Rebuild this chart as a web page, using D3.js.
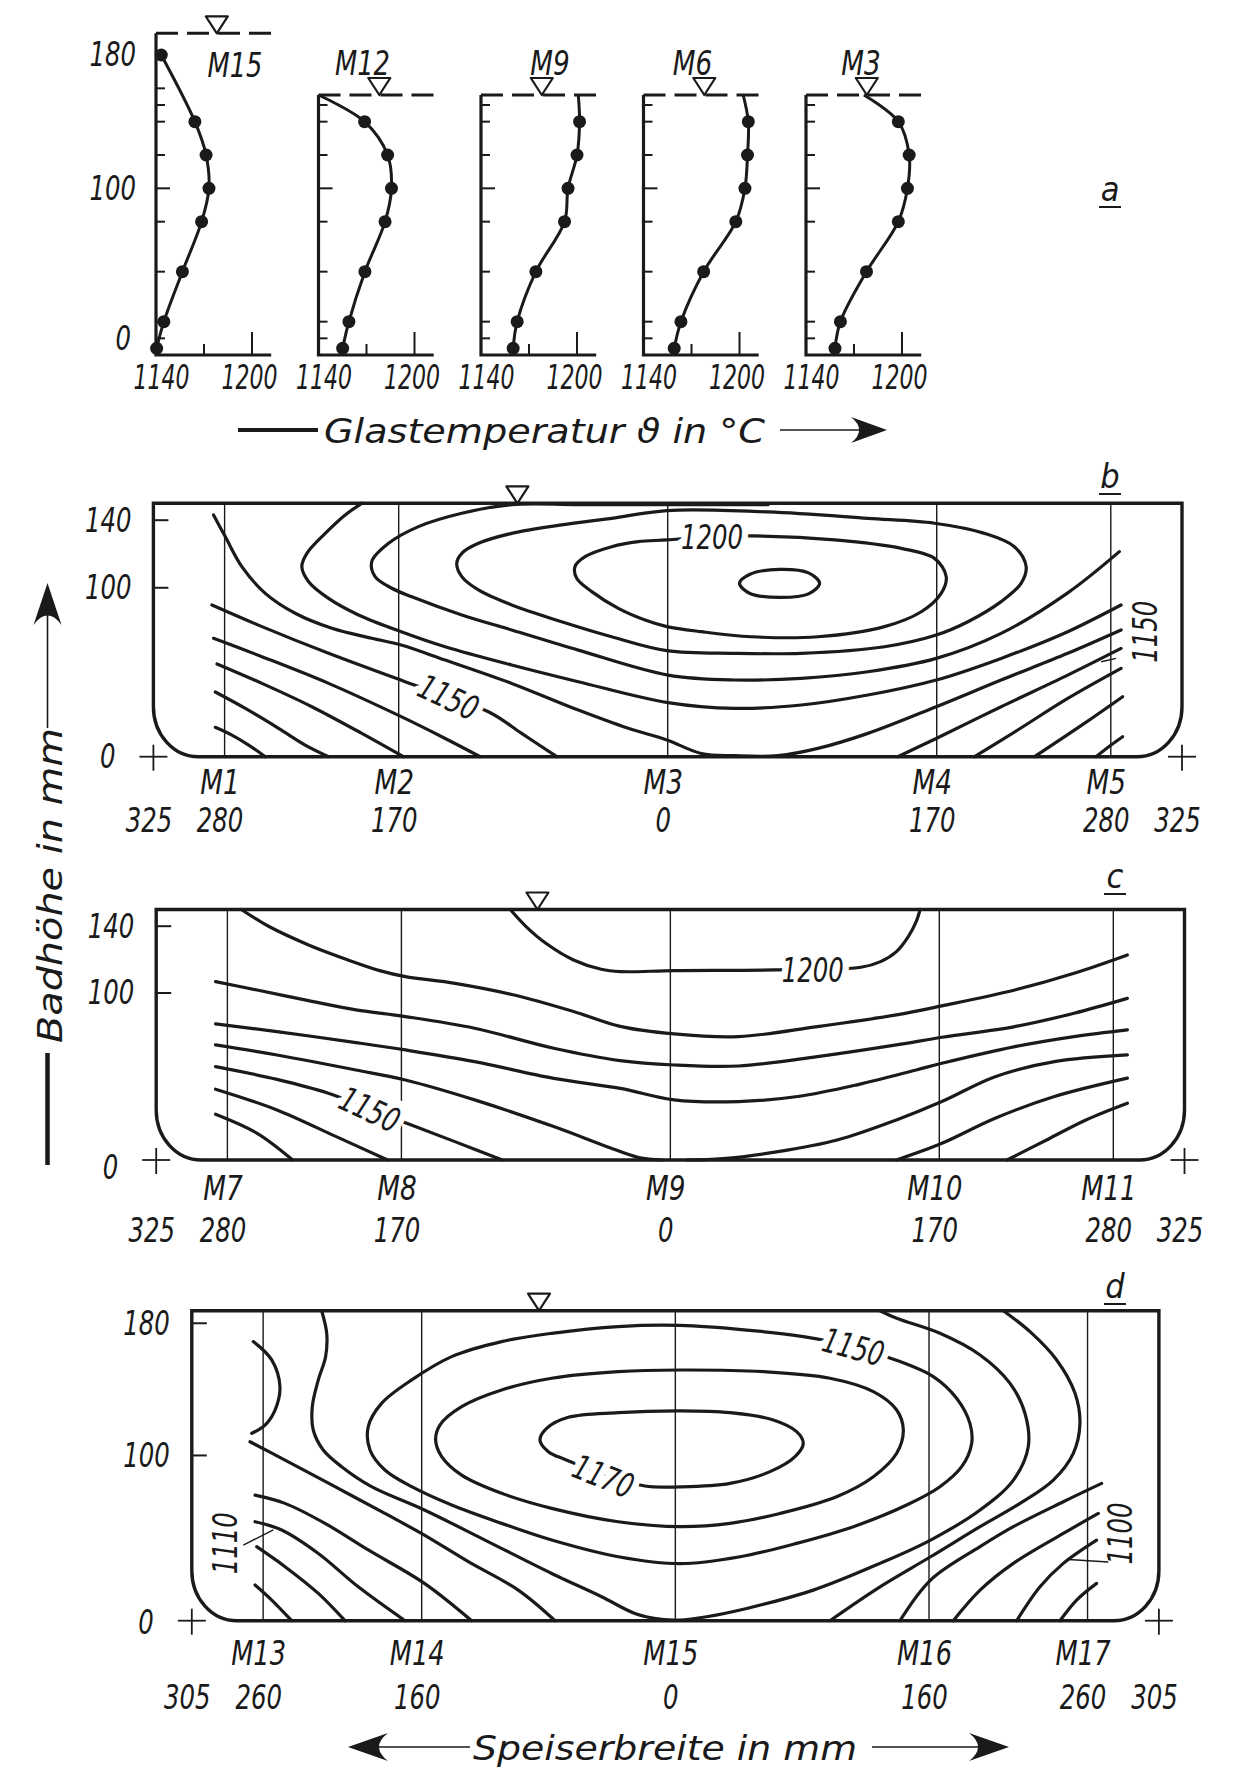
<!DOCTYPE html>
<html lang="de">
<head>
<meta charset="UTF-8" />
<title>Glastemperatur im Speiser</title>
<style>
  body { margin: 0; background: #ffffff; }
  svg text {
    font-family: "DejaVu Sans Condensed", "Liberation Sans Narrow", "Liberation Sans", sans-serif;
    font-style: italic;
    font-size: 34px;
    fill: #1a1a1a;
  }
</style>
</head>
<body>
<script src="https://cdn.jsdelivr.net/npm/d3@7"></script>
<svg id="chart"></svg>
<script>
// ---------- DATA ----------
// panel a: vertical profiles (height in mm, temperature in degC)
const profiles = ["M15", "M12", "M9", "M6", "M3"];
const heightsM15 = [4, 20, 50, 80, 100, 120, 140, 180];
const heights = [4, 20, 50, 80, 100, 120, 140];
const tempM15 = [1140.4, 1144.9, 1156.5, 1168.5, 1173.1, 1171.3, 1164.3, 1143.3];
const tempM12 = [1155.1, 1159.0, 1169.0, 1181.6, 1185.6, 1183.2, 1168.8];
const tempM9 = [1160.1, 1162.6, 1174.3, 1192.2, 1194.4, 1200.0, 1201.6];
const tempM6 = [1159.2, 1163.4, 1177.6, 1197.7, 1203.4, 1205.0, 1205.5];
const tempM3 = [1158.1, 1161.5, 1177.8, 1197.7, 1203.4, 1204.5, 1197.7];
const surfaceLevel = [193, 156, 156, 156, 156];
const surfaceTemp = [null, 1140, 1200.8, 1202.3, 1176.2];
const tickHeightsA = [10, 20, 50, 80, 100, 120, 140, 150, 160, 180];

// panels b-d: cross sections (width from centre in mm, height in mm)
const widthTicksBC = [-325, -280, -170, 0, 170, 280, 325];
const widthTicksD = [-305, -260, -160, 0, 160, 260, 305];
const gaugePosBC = [-280, -170, 0, 170, 280];
const gaugePosD = [-260, -160, 0, 160, 260];
const gaugesB = ["M1", "M2", "M3", "M4", "M5"];
const gaugesC = ["M7", "M8", "M9", "M10", "M11"];
const gaugesD = ["M13", "M14", "M15", "M16", "M17"];
const heightTicksBC = [0, 100, 140];
const heightTicksD = [0, 100, 180];

// isotherms b (10 K steps)
const levelsB = [1110, 1120, 1130, 1140, 1150, 1160, 1170, 1180, 1150, 1140, 1130, 1120];
const linesB = [
  [[-285.9,17.4],[-275.4,12.8],[-264.8,6.9],[-254.3,0]],
  [[-285.9,38.3],[-266.9,28.6],[-245.9,16.8],[-229.1,6.9],[-214.3,0]],
  [[-284.8,54.9],[-256.4,43.4],[-224.9,29.6],[-193.3,13.8],[-167,0]],
  [[-287,70.1],[-256.4,59.2],[-214.3,43.4],[-168.4,23.7],[-140.6,10.8],[-118.5,0]],
  [[-288,89.8],[-256.4,77.0],[-214.3,61.2],[-165.9,44.4],[-113.3,26.6],[-92.3,13.8],[-70.1,0]],
  [[-287,143.1],[-279.6,130.3],[-269.1,112.5],[-254.3,96.7],[-235.4,84.9],[-212.2,76.0],[-187,70.1],[-168.4,66.1],[-140.6,57.2],[-98.6,43.4],[-56.5,27.6],[-24.9,16.8],[-0.5,9.9],[21.2,1.9],[42.3,0.6],[69.7,0.6],[94.9,4.9],[126.5,13.8],[169.7,29.6],[210.7,45.4],[252.8,61.2],[286.5,75.0]],
  [[-193.3,150],[-203.8,143.1],[-216.4,132.2],[-228,120.4],[-231.2,112.5],[-226.9,103.6],[-214.3,93.7],[-195.4,83.9],[-168.4,74],[-140.6,65.1],[-98.6,54.3],[-56.5,44.4],[0.2,32],[42.3,28.6],[84.4,30.6],[126.5,36.5],[169.7,45.4],[210.7,58.2],[252.8,74.0],[286.5,89.8]],
  [[63.4,149.2],[0.2,149.2],[-56.5,149.2],[-98.6,149.2],[-130.1,144.1],[-157.5,136.2],[-176.4,126.3],[-187,115.5],[-184.9,106.6],[-174.3,99.7],[-161.7,94.7],[-130.1,83.9],[-98.6,75.0],[-56.5,63.1],[0.2,48.3],[42.3,45.4],[84.4,46.4],[126.5,50.3],[169.7,58.2],[210.7,73],[252.8,97],[285.4,121.4]],
  [[145.4,0],[169.7,10.8],[210.7,29.6],[252.8,48.3],[286.5,64.1]],
  [[193.9,0],[221.2,15.8],[252.8,34.5],[286.5,52.3]],
  [[231.8,0],[263.3,19.7],[287.5,35.5]],
  [[270.7,0],[280.2,6.9],[287.5,11.8]]
];
const loopLevelsB = [1190, 1200, 1210];
const loopsB = [
  [[-0.5,145.7],[-35.4,141.1],[-67.0,137.2],[-98.6,132.2],[-119.6,126.3],[-130.1,120.4],[-133.3,114.5],[-130.1,106.6],[-119.6,98.7],[-98.6,89.8],[-67.0,79.9],[-35.4,71.0],[-0.5,62.8],[42.3,61.2],[84.4,61.2],[137.0,65.1],[169.7,72.0],[189.7,79.9],[210.7,91.8],[223.3,102.6],[226.5,112.5],[219.1,124.3],[200.2,132.2],[168.6,138.2],[126.5,141.1],[63.4,144.9]],
  [[-0.5,128.3],[-18.6,127.3],[-35.4,124.3],[-52.2,118.4],[-58.6,112.5],[-57.5,105.6],[-48.0,97.7],[-31.2,87.8],[-14.3,80.9],[-0.5,77.0],[21.2,74.0],[52.8,71.0],[94.9,71.0],[137.0,77.0],[160.2,85.8],[172.8,96.7],[176.0,106.6],[168.6,117.4],[147.6,123.3],[105.5,128.3],[53.9,130.7],[21.2,130.0]],
  [[45.4,102.6],[52,108],[70.7,110.9],[89,108.8],[96,102.6],[89,96.4],[70.7,94.3],[52,96.6]]
];
const labelsB = [["1200", 28, 130.3, 0], ["1150", -138.5, 35.3, 25], ["1150", 301.6, 74, -90]];
const leadersB = [[[273.9,56.2],[283.3,58.2]]];

// isotherms c
const levelsC = [1130, 1140, 1150, 1160, 1160, 1150, 1140, 1170, 1180, 1190, 1200];
const linesC = [
  [[-287.5,27.4],[-261.2,16],[-238.7,0]],
  [[-287.5,42.4],[-248.7,30],[-211.2,14],[-178.7,0]],
  [[-287.5,55.9],[-248.7,48.3],[-216.2,40],[-190,30.4],[-163.7,21],[-136.2,11],[-106.2,0]],
  [[-287.5,68.9],[-248.7,62.9],[-198.7,53.9],[-167.5,47.9],[-123.7,36],[-73.7,20],[-40,8],[-20,1.5],[-5,0]],
  [[10,0],[33.1,0.8],[68,5],[105.5,12],[142.9,24],[171.6,35],[205.3,49.9],[242.8,58.9],[288.9,62.9]],
  [[142.9,0],[171.6,10],[205.3,25],[242.8,38],[288.9,49]],
  [[212.8,0],[237.8,12],[262.7,24],[288.9,34]],
  [[-287.5,81.5],[-248.7,76.9],[-198.7,70.3],[-167.5,65.9],[-123.7,58.9],[-73.7,48.9],[-31.7,42.9],[2.4,36],[43.1,35],[80.5,38],[118,45],[155.4,53.9],[171.6,57.9],[217.8,67.9],[255.2,73.9],[288.9,77.9]],
  [[-287.5,106.8],[-261.2,101.8],[-228.7,95.4],[-198.7,89.9],[-167.5,85.9],[-123.7,78.9],[-73.7,66.9],[-31.7,59.5],[2.4,56.9],[43.1,56.3],[93,61.9],[142.9,68.9],[171.6,73.5],[217.8,79.9],[255.2,87.9],[288.9,96.8]],
  [[-271.2,150],[-253.7,139.8],[-228.7,128.8],[-203.7,119.8],[-183.7,113.4],[-167.5,109.8],[-136.2,105.8],[-98.7,98.8],[-61.2,88.9],[-31.7,80],[2.4,75.5],[43.1,73.9],[93,79.9],[142.9,86.9],[171.6,92.3],[217.8,101.8],[255.2,111.8],[288.9,122.8]],
  [[-101.2,150],[-91.2,139.8],[-78.7,129.8],[-61.2,119.8],[-43.7,114.2],[-31.7,112.8],[2.4,113.4],[65.5,113.8],[120.5,115.4],[132.9,118.8],[142.9,124.8],[150.4,133.8],[155.4,142.8],[157.9,150]]
];
const labelsC = [["1200", 90, 113.8, 0], ["1150", -190, 30.4, 25]];

// isotherms d
const levelsD = [1090, 1100, 1110, 1120, 1130, 1130, 1140, 1130, 1120, 1110, 1100, 1090];
const linesD = [
  [[-265.1,21.6],[-254.6,12.5],[-242,0]],
  [[-264.1,44.8],[-246.2,32.7],[-225.2,16.5],[-208.4,0]],
  [[-265.1,59.9],[-248.3,54.9],[-225.2,40.7],[-200,20.5],[-170.5,0]],
  [[-265.1,76],[-246.2,71],[-221,58.9],[-193.7,42.8],[-158.3,22.6],[-128.5,0]],
  [[-268.3,108.3],[-246.2,97.2],[-214.7,81.1],[-183.2,64.9],[-158.3,51.8],[-130.6,35.7],[-99.1,18.5],[-75.9,0]],
  [[-266.2,168.9],[-254.6,157.8],[-249.4,141.6],[-252.5,127.5],[-258.8,118.4],[-267.2,113.4]],
  [[-223.1,187.6],[-219.9,173.9],[-220.6,159.8],[-225.2,145.7],[-229,129.5],[-228.4,115.4],[-222.1,103.3],[-210.5,93.2],[-191.6,81.1],[-158.3,67],[-120.1,48.8],[-78,28.6],[-46.5,14.5],[-25.5,4.4],[-8.6,0.8],[2.9,0.4],[19.7,2.4],[45,7.4],[87,18.5],[129.1,34.7],[161,48.8],[192.2,67],[213.2,85.1],[222.6,105.3],[220.5,125.5],[211.1,143.6],[192.2,160.8],[166.9,173.9],[139.6,183],[129.1,187.6]],
  [[206.9,187.6],[223.7,174.9],[240.5,157.8],[252.1,137.6],[255.2,119.4],[251,101.3],[238.4,85.1],[217.4,71],[192.2,56.9],[161,38.7],[129.1,20.5],[97.5,0]],
  [[268.9,83.1],[244.7,72],[213.2,56.9],[192.2,44.8],[161,24.6],[141.7,0]],
  [[266.8,64.9],[244.7,52.8],[213.2,34.7],[192.2,18.5],[175.3,0]],
  [[265.7,48.8],[244.7,34.7],[230,20.5],[215.3,0]],
  [[265.7,22.6],[253.1,12.5],[242.6,0]]
];
const loopLevelsD = [1170, 1160, 1150];
const loopsD = [
  [[2.9,127],[-36,125.9],[-67.5,123.1],[-81.2,116.4],[-85.4,109.3],[-80.1,102.3],[-69.6,97.6],[-45.4,89],[-19.2,81.5],[2.9,81],[34.5,83.1],[59.7,90.2],[75.5,99.3],[80.7,107.3],[76.5,114.4],[61.8,121.5],[34.5,125.9]],
  [[2.9,151.7],[-36,150.7],[-78,146.7],[-109.6,139.6],[-134.8,129.5],[-148.5,118.4],[-151.2,109.4],[-147.4,99.3],[-134.8,88.1],[-109.6,77.1],[-78,68],[-36,59.9],[2.9,56.9],[34.5,58.9],[66,64.9],[101.7,75.0],[124.9,87.1],[139.6,101.3],[143.8,115.4],[139.6,127.5],[124.9,138.6],[97.5,146.7],[55.5,150.7]],
  [[2.9,178.7],[-36,178],[-78,173.9],[-109.6,168.9],[-141.1,159.8],[-166.3,145.7],[-185.3,131.5],[-193.7,117.4],[-192.6,103.3],[-183.2,91.2],[-166.3,81.1],[-141.1,70],[-109.6,58.9],[-78,48.8],[-36,38.7],[2.9,34.5],[40.8,38.7],[76.5,46.8],[112.3,56.9],[145.9,70],[166.9,81.1],[180.6,93.2],[186.9,107.3],[185.8,119.4],[177.4,134.6],[162.7,147.7],[141.7,156.8],[112.3,165.8],[80.7,171.9],[45,175.9]]
];
const labelsD = [["1170", -45.4, 87.5, 22], ["1150", 112.3, 165.8, 15], ["1110", -284.1, 46.8, -90], ["1100", 280.5, 52.8, -90]];
const leadersD = [[[-272.5,45.8],[-253.6,54.9]], [[248,37],[273.1,35.5]]];

// ---------- DRAWING ----------
const W = 1239, H = 1771;
const ink = "#1a1a1a";
const svg = d3.select("#chart").attr("width", W).attr("height", H);
svg.append("rect").attr("width", W).attr("height", H).attr("fill", "#fff");
const smooth = d3.curveCatmullRom.alpha(0.5);
const smoothClosed = d3.curveCatmullRomClosed.alpha(0.5);

// narrow technical lettering: squeeze every label to a fixed advance per glyph
const glyphW = c => (c === "M" ? 24 : c === " " ? 13 : 15.5);
function fit(sel, digit) {
  sel.attr("textLength", function () {
    return [...this.textContent].reduce((s, c) => s + (digit && /\d/.test(c) ? digit : glyphW(c)), 0);
  }).attr("lengthAdjust", "spacingAndGlyphs");
}

function arrowHead(x, y, angle, len, half) {
  svg.append("path")
    .attr("d", `M0,0 L${-len},${-half} Q${-len * 0.55},0 ${-len},${half} Z`)
    .attr("fill", ink)
    .attr("transform", `translate(${x},${y}) rotate(${angle})`);
}
function hline(g, x1, x2, y, w) {
  g.append("line").attr("x1", x1).attr("x2", x2).attr("y1", y).attr("y2", y)
    .attr("stroke", ink).attr("stroke-width", w);
}
function vline(g, x, y1, y2, w) {
  g.append("line").attr("x1", x).attr("x2", x).attr("y1", y1).attr("y2", y2)
    .attr("stroke", ink).attr("stroke-width", w);
}
function surfaceMark(g, x, y) {
  g.append("path").attr("d", `M${x - 11},${y - 17} L${x + 11},${y - 17} L${x},${y} Z`)
    .attr("fill", "#fff").attr("stroke", ink).attr("stroke-width", 2.2).attr("stroke-linejoin", "round");
}
function panelLetter(ch, x, y) {
  svg.append("text").attr("x", x).attr("y", y).attr("text-anchor", "middle").text(ch);
  hline(svg, x - 11, x + 11, y + 6, 2);
}

// PANEL a
const xSlot = d3.scalePoint().domain(profiles).range([156, 806]);
const yA = d3.scaleLinear().domain([0, 180]).range([355, 55]);
const tempsA = [tempM15, tempM12, tempM9, tempM6, tempM3];
const nameDx = [79, 44, 69, 49, 55];

profiles.forEach((name, i) => {
  const x = d3.scaleLinear().domain([1140, 1200]).range([xSlot(name), xSlot(name) + 96]);
  const g = svg.append("g").attr("class", "profile");
  const top = surfaceLevel[i];
  const hs = i === 0 ? heightsM15 : heights;
  const pts = hs.map((h, k) => [tempsA[i][k], h]);
  if (surfaceTemp[i] !== null) pts.push([surfaceTemp[i], top]);

  g.append("line").attr("x1", x(1140)).attr("x2", x(1212)).attr("y1", yA(top)).attr("y2", yA(top))
    .attr("stroke", ink).attr("stroke-width", 3).attr("stroke-dasharray", "22 9");
  g.append("path").attr("d", `M${x(1140)},${yA(top)} V${yA(0)} H${x(1212)}`)
    .attr("fill", "none").attr("stroke", ink).attr("stroke-width", 3.2);
  vline(g, x(1170), yA(0), yA(0) - 11, 2);
  vline(g, x(1200), yA(0), yA(0) - 23, 2);
  tickHeightsA.filter(h => h < top - 3).forEach(h => {
    hline(g, x(1140), x(1140) + (h === 100 ? 14 : 9), yA(h), 2);
  });

  g.append("path").datum(pts)
    .attr("d", d3.line().x(d => x(d[0])).y(d => yA(d[1])).curve(smooth))
    .attr("fill", "none").attr("stroke", ink).attr("stroke-width", 3);
  g.selectAll("circle").data(pts.slice(0, hs.length)).join("circle")
    .attr("cx", d => x(d[0])).attr("cy", d => yA(d[1])).attr("r", 6.5).attr("fill", ink);

  surfaceMark(g, x(1178), yA(top));
  g.append("text").attr("x", xSlot(name) + nameDx[i]).attr("y", i === 0 ? 77 : 75)
    .attr("text-anchor", "middle").text(name).call(fit);

  g.append("g").attr("transform", `translate(0,${yA(0)})`)
    .call(d3.axisBottom(x).tickValues([1140, 1200]).tickFormat(d3.format("d")).tickSize(0).tickPadding(10))
    .call(s => s.select(".domain").remove())
    .selectAll("text").attr("dx", d => (d === 1140 ? 5 : -3)).call(fit, 14);

  if (i === 0) {
    g.append("g").attr("transform", `translate(${x(1140)},0)`)
      .call(d3.axisLeft(yA).tickValues([0, 100, 180]).tickSize(0).tickPadding(20))
      .call(s => s.select(".domain").remove())
      .selectAll("text").call(fit)
      .filter(d => d === 0).attr("y", -16).attr("x", -25);
  }
});

// axis title a
hline(svg, 238, 318, 430, 4);
svg.append("text").attr("x", 324).attr("y", 443).attr("textLength", 441)
  .attr("lengthAdjust", "spacingAndGlyphs").text("Glastemperatur \u03D1 in \u00B0C");
hline(svg, 780, 860, 430, 1.6);
arrowHead(887, 430, 0, 36, 13);
panelLetter("a", 1110, 201);

// PANELS b, c, d
function boxPath(x, y, left, right, top, rx, ry) {
  const L = x(left), R = x(right), T = y(top), B = y(0);
  return `M${L},${T} L${L},${B - ry} A${rx},${ry} 0 0 0 ${L + rx},${B} L${R - rx},${B} ` +
         `A${rx},${ry} 0 0 0 ${R},${B - ry} L${R},${T} Z`;
}

function drawSection(p) {
  const { x, y, left, right, top } = p;
  const g = svg.append("g").attr("class", "section");
  const line = d3.line().x(d => x(d[0])).y(d => y(d[1])).curve(smooth);
  const loop = d3.line().x(d => x(d[0])).y(d => y(d[1])).curve(smoothClosed);

  p.gaugePos.forEach(v => vline(g, x(v), y(0), y(top), 1.4));

  g.selectAll("path.iso").data(p.lines).join("path").attr("class", "iso")
    .attr("d", line).attr("fill", "none").attr("stroke", ink).attr("stroke-width", 3.2)
    .attr("stroke-linecap", "round");
  g.selectAll("path.loop").data(p.loops).join("path").attr("class", "loop")
    .attr("d", loop).attr("fill", "none").attr("stroke", ink).attr("stroke-width", 3.2);
  g.selectAll("path.leader").data(p.leaders).join("path").attr("class", "leader")
    .attr("d", d3.line().x(d => x(d[0])).y(d => y(d[1])))
    .attr("fill", "none").attr("stroke", ink).attr("stroke-width", 1.4);

  g.append("path").attr("d", boxPath(x, y, left, right, top, 45, 50))
    .attr("fill", "none").attr("stroke", ink).attr("stroke-width", 3.4);

  p.heightTicks.filter(v => v > 0).forEach(v => hline(g, x(left), x(left) + 15, y(v), 2));
  [left, right].forEach(v => {
    hline(g, x(v) - 14, x(v) + 14, y(0), 1.8);
    vline(g, x(v), y(0) - 12, y(0) + 14, 1.8);
  });

  // white knock-out behind labels lying on a line, then the label itself
  const place = d => `translate(${x(d[1])},${y(d[2])}) rotate(${d[3]})`;
  g.selectAll("text.halo").data(p.labels.filter(d => d[3] !== -90)).join("text").attr("class", "halo")
    .attr("transform", place).attr("text-anchor", "middle").attr("dy", "0.36em")
    .style("fill", "#fff").style("stroke", "#fff").style("stroke-width", 16).style("stroke-linejoin", "round")
    .text(d => d[0]).call(fit);
  g.selectAll("text.iso").data(p.labels).join("text").attr("class", "iso")
    .attr("transform", place).attr("text-anchor", "middle").attr("dy", "0.36em")
    .text(d => d[0]).call(fit);

  surfaceMark(g, x(p.tri), y(top));

  g.append("g").attr("transform", `translate(0,${y(0)})`)
    .call(d3.axisBottom(x).tickValues(p.widthTicks).tickFormat(d => Math.abs(d)).tickSize(0).tickPadding(p.numPad))
    .call(s => s.select(".domain").remove())
    .selectAll("text").attr("dx", -5).call(fit);
  g.append("g").attr("transform", `translate(0,${y(0)})`)
    .call(d3.axisBottom(x).tickValues(p.gaugePos).tickFormat((d, i) => p.gaugeNames[i]).tickSize(0).tickPadding(p.namePad))
    .call(s => s.select(".domain").remove())
    .selectAll("text").attr("dx", -5).call(fit);
  g.append("g").attr("transform", `translate(${x(left)},0)`)
    .call(d3.axisLeft(y).tickValues(p.heightTicks).tickSize(0).tickPadding(22))
    .call(s => s.select(".domain").remove())
    .selectAll("text").call(fit)
    .filter(d => d === 0).attr("x", -38).attr("y", p.zeroDy);
}

drawSection({
  x: d3.scaleLinear().domain([-325, 325]).range([153.4, 1182]),
  y: d3.scaleLinear().domain([0, 150]).range([756.7, 503.3]),
  left: -325, right: 325, top: 150, tri: -95,
  gaugePos: gaugePosBC, gaugeNames: gaugesB, widthTicks: widthTicksBC, heightTicks: heightTicksBC,
  lines: linesB, loops: loopsB, labels: labelsB, leaders: leadersB,
  namePad: 13, numPad: 51, zeroDy: 0
});
panelLetter("b", 1110, 488);

drawSection({
  x: d3.scaleLinear().domain([-325, 325]).range([156.2, 1184.5]),
  y: d3.scaleLinear().domain([0, 150]).range([1160, 909.5]),
  left: -325, right: 325, top: 150, tri: -84,
  gaugePos: gaugePosBC, gaugeNames: gaugesC, widthTicks: widthTicksBC, heightTicks: heightTicksBC,
  lines: linesC, loops: [], labels: labelsC, leaders: [],
  namePad: 16, numPad: 58, zeroDy: 8
});
panelLetter("c", 1115, 888);

drawSection({
  x: d3.scaleLinear().domain([-305, 305]).range([191.8, 1158.9]),
  y: d3.scaleLinear().domain([0, 187.6]).range([1620.7, 1310.7]),
  left: -305, right: 305, top: 187.6, tri: -86,
  gaugePos: gaugePosD, gaugeNames: gaugesD, widthTicks: widthTicksD, heightTicks: heightTicksD,
  lines: linesD, loops: loopsD, labels: labelsD, leaders: leadersD,
  namePad: 20, numPad: 64, zeroDy: 2
});
panelLetter("d", 1115, 1298);

// vertical title
arrowHead(47.5, 583, -90, 42, 14);
vline(svg, 47.5, 615, 728, 1.6);
svg.append("text").attr("transform", "translate(62,885.5) rotate(-90)")
  .attr("text-anchor", "middle").attr("textLength", 315).attr("lengthAdjust", "spacingAndGlyphs")
  .text("Badh\u00F6he in mm");
vline(svg, 47.5, 1053, 1165, 4.5);

// horizontal title
arrowHead(348, 1747, 180, 40, 14);
hline(svg, 375, 470, 1747, 1.6);
svg.append("text").attr("x", 473).attr("y", 1760).attr("textLength", 384)
  .attr("lengthAdjust", "spacingAndGlyphs").text("Speiserbreite in mm");
hline(svg, 872, 985, 1747, 1.6);
arrowHead(1009, 1747, 0, 40, 14);
</script>
</body>
</html>
